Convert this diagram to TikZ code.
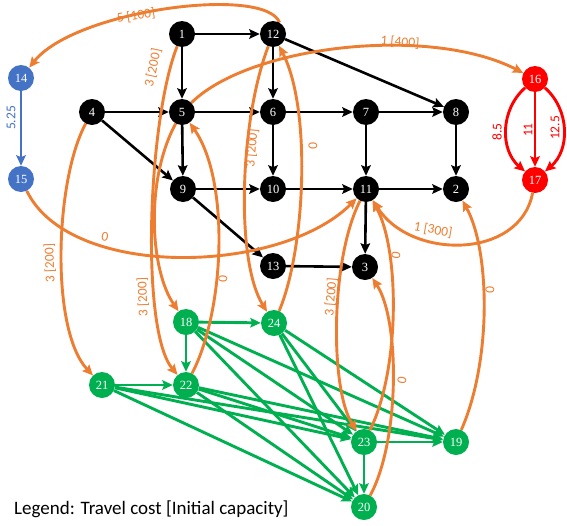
\documentclass[tikz,border=0pt]{standalone}
\usepackage{fontspec}
\setmainfont{Liberation Serif}
\newfontfamily\labfont{Carlito}
\usetikzlibrary{arrows.meta}
\definecolor{eorange}{HTML}{ED7D31}
\definecolor{egreen}{HTML}{00B050}
\definecolor{eblue}{HTML}{4472C4}
\definecolor{ered}{HTML}{FF0000}
\pgfdeclarelayer{bg}
\pgfsetlayers{bg,main}
\begin{document}
\begin{tikzpicture}[x=1pt,y=-1pt,
  vtx/.style={circle,minimum size=26pt,inner sep=0pt,text=white,font=\fontsize{12.5}{12.5}\selectfont},
  bk/.style={vtx,fill=black},
  gn/.style={vtx,fill=egreen},
  bl/.style={vtx,fill=eblue},
  rd/.style={vtx,fill=ered},
  arr/.style={-{Stealth[length=10.5pt,width=9.5pt,inset=1.8pt]}},
  be/.style={arr,line width=2.6pt,draw=black},
  oe/.style={arr,line width=2.9pt,draw=eorange},
  ge/.style={arr,line width=2.9pt,draw=egreen},
  re/.style={arr,line width=2.9pt,draw=ered},
  ble/.style={arr,line width=2.9pt,draw=eblue},
  lab/.style={inner sep=0pt,font=\labfont\fontsize{13.5}{14}\selectfont},
  ol/.style={lab,text=eorange},
]
\useasboundingbox (0,0) rectangle (567,525);
% nodes
\node[bk] (1) at (182,34) {1};
\node[bk] (12) at (273,34) {12};
\node[bl] (14) at (21,78) {14};
\node[rd] (16) at (535,79) {16};
\node[bk] (4) at (92,112) {4};
\node[bk] (5) at (182,112) {5};
\node[bk] (6) at (273,112) {6};
\node[bk] (7) at (366,112) {7};
\node[bk] (8) at (456,112) {8};
\node[bl] (15) at (21,179) {15};
\node[rd] (17) at (535,180) {17};
\node[bk] (9) at (183,189) {9};
\node[bk] (10) at (273,189) {10};
\node[bk] (11) at (366,189) {11};
\node[bk] (2) at (456,189) {2};
\node[bk] (13) at (273,266) {13};
\node[bk] (3) at (365,267) {3};
\node[gn] (18) at (186,322) {18};
\node[gn] (24) at (274,323) {24};
\node[gn] (21) at (102,385) {21};
\node[gn] (22) at (186,385) {22};
\node[gn] (23) at (364,442) {23};
\node[gn] (19) at (456,442) {19};
\node[gn] (20) at (364,507) {20};
\begin{pgfonlayer}{bg}
% black edges
\draw[be] (1) -- (12);
\draw[be] (1) -- (5);
\draw[be] (12) -- (6);
\draw[be] (12) -- (8);
\draw[be] (4) -- (5);
\draw[be] (4) -- (9);
\draw[be] (5) -- (6);
\draw[be] (5) -- (9);
\draw[be] (6) -- (7);
\draw[be] (6) -- (10);
\draw[be] (7) -- (8);
\draw[be] (7) -- (11);
\draw[be] (8) -- (2);
\draw[be] (9) -- (10);
\draw[be] (9) -- (13);
\draw[be] (10) -- (11);
\draw[be] (11) -- (2);
\draw[be] (11) -- (3);
\draw[be] (13) -- (3);
% blue and red
\draw[ble] (14) -- (15);
\draw[re] (16) -- (17);
\draw[re] (16) .. controls (500,110) and (500,150) .. (17);
\draw[re] (16) .. controls (570,110) and (570,150) .. (17);
% green
\foreach \s/\t in {18/24,18/22,21/22,23/19,23/20,18/23,18/19,18/20,21/23,21/19,21/20,22/23,22/19,22/20,24/23,24/19,24/20}
  \draw[ge] (\s) -- (\t);
% orange
\draw[oe] (12.60) .. controls (265,-15) and (75,10) .. (14);
\draw[oe] (5) .. controls (250,45) and (430,25) .. (16);
\draw[oe] (17) .. controls (520,260) and (410,260) .. (11);
\draw[oe] (15) .. controls (70,280) and (280,275) .. (11);
\draw[oe] (4) .. controls (55,180) and (50,330) .. (21);
\draw[oe] (1) .. controls (148,120) and (140,330) .. (22);
\draw[oe] (5) .. controls (145,180) and (150,270) .. (18);
\draw[oe] (22) .. controls (225,310) and (230,180) .. (5);
\draw[oe] (12) .. controls (240,120) and (235,260) .. (24);
\draw[oe] (24) .. controls (305,250) and (312,110) .. (12);
\draw[oe] (11) .. controls (330,260) and (330,390) .. (23);
\draw[oe] (23) .. controls (400,370) and (400,250) .. (11);
\draw[oe] (20) .. controls (400,440) and (400,320) .. (3);
\draw[oe] (19) .. controls (492,360) and (490,250) .. (2);
\end{pgfonlayer}
% labels
\node[ol,rotate=9] (l1) at (136,16) {5 [100]};
\node[ol,rotate=-5] (l2) at (400,42) {1 [400]};
\node[ol,rotate=-10] (l3) at (433,230) {1 [300]};
\node[ol,rotate=-10] (l4) at (105,237) {0};
\node[ol,rotate=92] (l5) at (50,263) {3 [200]};
\node[ol,rotate=78] (l6) at (153,68) {3 [200]};
\node[ol,rotate=92] (l7) at (143,297) {3 [200]};
\node[ol,rotate=88] (l8) at (223,279) {0};
\node[ol,rotate=85] (l9) at (252,148) {3 [200]};
\node[ol,rotate=88] (l10) at (313,146) {0};
\node[ol,rotate=85] (l11) at (331,297) {3 [200]};
\node[ol,rotate=80] (l12) at (396,255) {0};
\node[ol,rotate=80] (l13) at (402,380) {0};
\node[ol,rotate=88] (l14) at (490,290) {0};
\node[lab,text=eblue,rotate=90] (l15) at (11,118) {5.25};
\node[lab,text=ered,rotate=90] (l16) at (497,132) {8.5};
\node[lab,text=ered,rotate=90] (l17) at (528,130) {11};
\node[lab,text=ered,rotate=90] (l18) at (555,128) {12.5};
\node[anchor=west,inner sep=0pt,font=\labfont\fontsize{19}{20}\selectfont] (leg) at (14,509) {Legend: Travel cost [Initial capacity]};
\end{tikzpicture}
\end{document}
